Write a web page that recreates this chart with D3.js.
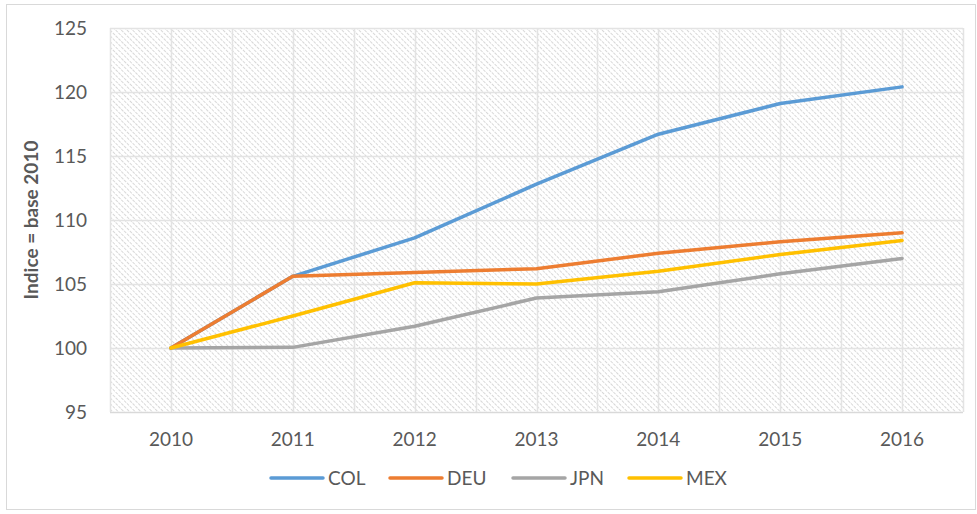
<!DOCTYPE html>
<html lang="fr">
<head>
<meta charset="utf-8">
<title>Indice base 2010</title>
<script src="https://d3js.org/d3.v7.min.js"></script>
<style>
  body { margin: 0; background: #fff; }
  text { font-family: Lato, "Open Sans", sans-serif; fill: #595959; }
</style>
</head>
<body>
<script>
// data
var years = ["2010", "2011", "2012", "2013", "2014", "2015", "2016"];
var col = [100, 105.6, 108.6, 112.8, 116.7, 119.1, 120.4];
var deu = [100, 105.6, 105.9, 106.2, 107.4, 108.3, 109.0];
var jpn = [100, 100.05, 101.7, 103.9, 104.4, 105.8, 107.0];
var mex = [100, 102.5, 105.1, 105.0, 106.0, 107.3, 108.4];
var yTicks = [95, 100, 105, 110, 115, 120, 125];

var series = [
  { name: "COL", values: col, color: "#5B9BD5" },
  { name: "DEU", values: deu, color: "#ED7D31" },
  { name: "JPN", values: jpn, color: "#A5A5A5" },
  { name: "MEX", values: mex, color: "#FFC000" }
];

var width = 977, height = 514;
var margin = { left: 110, right: 14, top: 28, bottom: 102 };

var svg = d3.select("body").append("svg")
  .attr("width", width)
  .attr("height", height);

// hatch pattern for the plot area
var defs = svg.append("defs");
var pat = defs.append("pattern")
  .attr("id", "hatch")
  .attr("patternUnits", "userSpaceOnUse")
  .attr("width", 4)
  .attr("height", 4)
  .attr("patternTransform", "rotate(-45)");
pat.append("rect").attr("width", 4).attr("height", 4).attr("fill", "#fff");
pat.append("line")
  .attr("x1", 0).attr("y1", 0).attr("x2", 0).attr("y2", 4)
  .attr("stroke", "#cfcfcf").attr("stroke-width", 1.6)
  .attr("stroke-dasharray", "2,1");

// outer border
svg.append("rect")
  .attr("x", 6.5).attr("y", 4.5)
  .attr("width", 969).attr("height", 505)
  .attr("fill", "none")
  .attr("stroke", "#d9d9d9");

var x = d3.scaleBand()
  .domain(years)
  .range([margin.left, width - margin.right]);

var y = d3.scaleLinear()
  .domain([95, 125])
  .range([height - margin.bottom, margin.top]);

var plotW = width - margin.right - margin.left;
var plotH = height - margin.bottom - margin.top;

svg.append("rect")
  .attr("x", margin.left).attr("y", margin.top)
  .attr("width", plotW).attr("height", plotH)
  .attr("fill", "url(#hatch)");

// vertical gridlines: category boundaries and centres
var vx = [];
years.forEach(function(d) {
  vx.push(x(d));
  vx.push(x(d) + x.bandwidth() / 2);
});
vx.push(width - margin.right);

svg.append("g").selectAll("line")
  .data(vx)
  .enter().append("line")
  .attr("x1", function(d) { return Math.round(d) + 0.5; })
  .attr("x2", function(d) { return Math.round(d) + 0.5; })
  .attr("y1", margin.top)
  .attr("y2", height - margin.bottom)
  .attr("stroke", "#e3e3e3")
  .attr("stroke-width", 1.5);

// horizontal gridlines
svg.append("g").selectAll("line")
  .data(yTicks)
  .enter().append("line")
  .attr("x1", margin.left)
  .attr("x2", width - margin.right)
  .attr("y1", function(d) { return Math.round(y(d)) + 0.5; })
  .attr("y2", function(d) { return Math.round(y(d)) + 0.5; })
  .attr("stroke", function(d) { return d === 95 ? "#d9d9d9" : "#e3e3e3"; })
  .attr("stroke-width", 1.5);

// y axis labels
var yAxis = d3.axisLeft(y).tickValues(yTicks).tickSize(0).tickPadding(23);
var gy = svg.append("g")
  .attr("transform", "translate(" + margin.left + ",0)")
  .call(yAxis);
gy.select(".domain").remove();
gy.selectAll("text")
  .style("font-size", "19px")
  .style("font-family", "Lato, sans-serif")
  .attr("fill", "#595959");

// x axis labels
var xAxis = d3.axisBottom(x).tickSize(0).tickPadding(21);
var gx = svg.append("g")
  .attr("transform", "translate(0," + (height - margin.bottom) + ")")
  .call(xAxis);
gx.select(".domain").remove();
gx.selectAll("text")
  .style("font-size", "19px")
  .style("font-family", "Lato, sans-serif")
  .attr("fill", "#595959");

// y axis title
svg.append("text")
  .attr("transform", "translate(38," + (margin.top + plotH / 2) + ") rotate(-90)")
  .attr("text-anchor", "middle")
  .style("font-size", "19px")
  .style("font-weight", "bold")
  .text("Indice = base 2010");

// lines
var line = d3.line()
  .x(function(d, i) { return x(years[i]) + x.bandwidth() / 2; })
  .y(function(d) { return y(d); });

svg.append("g").selectAll("path")
  .data(series)
  .enter().append("path")
  .attr("d", function(d) { return line(d.values); })
  .attr("fill", "none")
  .attr("stroke", function(d) { return d.color; })
  .attr("stroke-width", 3.5)
  .attr("stroke-linejoin", "round")
  .attr("stroke-linecap", "round");

// legend
var legendX = [270, 389, 512, 628];
var lg = svg.append("g").selectAll("g")
  .data(series)
  .enter().append("g")
  .attr("transform", function(d, i) { return "translate(" + legendX[i] + ",478)"; });
lg.append("line")
  .attr("x1", 1).attr("x2", 53)
  .attr("stroke", function(d) { return d.color; })
  .attr("stroke-width", 3.5)
  .attr("stroke-linecap", "round");
lg.append("text")
  .attr("x", 58)
  .attr("dy", "0.35em")
  .style("font-size", "19px")
  .text(function(d) { return d.name; });
</script>
</body>
</html>
